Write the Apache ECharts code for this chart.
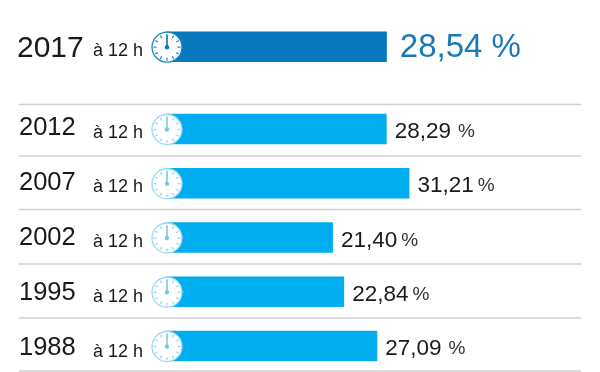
<!DOCTYPE html>
<html>
<head>
<meta charset="utf-8">
<style>
html, body { margin: 0; padding: 0; background: #fff; }
#chart { width: 600px; height: 372px; }
</style>
<script src="https://cdn.jsdelivr.net/npm/echarts@6/dist/echarts.min.js"></script>
</head>
<body>
<div id="chart"></div>
<script>
var topYear = ['2017'];
var topValue = [28.54];
var topLabel = ['28,54'];
var years = ['2012', '2007', '2002', '1995', '1988'];
var values = [28.29, 31.21, 21.40, 22.84, 27.09];
var valueLabels = ['28,29', '31,21', '21,40', '22,84', '27,09'];
var spacedUnits = ['28,29', '27,09']; // le % est un peu plus ecarte sur ces lignes
var timeLabel = 'à 12 h';
var unit = '%';

var font = '"Liberation Sans", Arial, sans-serif';
var ruleTops = [104.5, 156, 209.5, 264, 318, 371];

// cadran d'horloge pose au debut de chaque barre
function clockItem(color, handColor, tickWidth) {
    return function (params, api) {
        var p = api.coord([0, api.value(1)]);
        var cx = p[0] + 1, cy = p[1] + 0.5, r = 15;
        var children = [{
            type: 'circle',
            shape: { cx: cx, cy: cy, r: r },
            style: { fill: '#fff', stroke: color, lineWidth: 1.3 }
        }];
        for (var i = 0; i < 12; i++) {
            var a = i * Math.PI / 6;
            children.push({
                type: 'line',
                shape: {
                    x1: cx + Math.sin(a) * (r - 1.5), y1: cy - Math.cos(a) * (r - 1.5),
                    x2: cx + Math.sin(a) * (r - 4.5), y2: cy - Math.cos(a) * (r - 4.5)
                },
                style: { stroke: color, lineWidth: tickWidth }
            });
        }
        children.push({
            type: 'line',
            shape: { x1: cx, y1: cy, x2: cx, y2: cy - 12 },
            style: { stroke: handColor, lineWidth: 1.6 }
        });
        children.push({
            type: 'circle',
            shape: { cx: cx, cy: cy, r: 2.2 },
            style: { fill: handColor }
        });
        return { type: 'group', children: children };
    };
}

function textAxis(gridIndex, data, size, margin, paddingTop) {
    return {
        type: 'category', gridIndex: gridIndex, position: 'left', inverse: true, data: data,
        axisLine: { show: false }, axisTick: { show: false }, splitLine: { show: false },
        axisLabel: {
            interval: 0, align: 'left', margin: margin,
            formatter: '{t|{value}}',
            rich: { t: { fontFamily: font, fontSize: size, color: '#1a1a1a', padding: [paddingTop, 0, 0, 0] } }
        }
    };
}

function clockData(list) {
    return list.map(function (y, i) { return [0, i]; });
}

var option = {
    backgroundColor: '#fff',
    animation: false,
    grid: [
        { left: 166, width: 390, top: 26.7, height: 40, outerBoundsMode: 'none' },
        { left: 166, width: 390, top: 101.9, height: 271.2, outerBoundsMode: 'none' },
        { left: 166, width: 390, top: 101, height: 274, outerBoundsMode: 'none' } // textes de gauche, pas un peu plus grand
    ],
    xAxis: [
        { type: 'value', gridIndex: 0, min: 0, max: 50.4, show: false },
        { type: 'value', gridIndex: 1, min: 0, max: 50, show: false },
        { type: 'value', gridIndex: 2, min: 0, max: 50, show: false }
    ],
    yAxis: [
        textAxis(0, topYear, 30, 149, 4),
        textAxis(0, [timeLabel], 18, 73, 8),
        // axe des barres, sans libelles
        {
            type: 'category', gridIndex: 1, inverse: true, data: years,
            axisLine: { show: false }, axisTick: { show: false }, axisLabel: { show: false }
        },
        textAxis(2, years, 25.5, 147, 0),
        textAxis(2, years.map(function () { return timeLabel; }), 18, 73, 8.5)
    ],
    series: [
        {
            type: 'bar', xAxisIndex: 0, yAxisIndex: 0, barWidth: 30.5,
            data: topValue,
            itemStyle: { color: '#0877bd' },
            label: {
                show: true, position: 'right', distance: 13, offset: [0, 1.5],
                fontFamily: font, fontSize: 33, color: '#1a7ab8',
                formatter: function (p) { return topLabel[p.dataIndex] + ' ' + unit; }
            }
        },
        {
            type: 'bar', xAxisIndex: 1, yAxisIndex: 2, barWidth: 30.5,
            data: values,
            itemStyle: { color: '#00aeef' },
            label: {
                show: true, position: 'right', distance: 8, offset: [0, 3],
                formatter: function (p) {
                    var txt = valueLabels[p.dataIndex];
                    var style = spacedUnits.indexOf(txt) >= 0 ? 'w' : 'u';
                    return '{v|' + txt + '}{' + style + '|' + unit + '}';
                },
                rich: {
                    v: { fontFamily: font, fontSize: 22.5, color: '#1a1a1a' },
                    u: { fontFamily: font, fontSize: 19, color: '#333', padding: [0, 0, 0, 4] },
                    w: { fontFamily: font, fontSize: 19, color: '#333', padding: [0, 0, 0, 7] }
                }
            }
        },
        {
            type: 'custom', xAxisIndex: 0, yAxisIndex: 0, z: 5, clip: false,
            renderItem: clockItem('#1d84c4', '#0877bd', 1.2),
            data: clockData(topYear)
        },
        {
            type: 'custom', xAxisIndex: 1, yAxisIndex: 2, z: 5, clip: false,
            renderItem: clockItem('#9fd7ef', '#7cc8e8', 1.3),
            data: clockData(years)
        }
    ],
    graphic: ruleTops.map(function (y) {
        return {
            type: 'line', silent: true,
            shape: { x1: 19, y1: y, x2: 581, y2: y },
            style: { stroke: '#d0d0d0', lineWidth: 1.6 }
        };
    })
};

var myChart = echarts.init(document.getElementById('chart'));
myChart.setOption(option);
</script>
</body>
</html>
